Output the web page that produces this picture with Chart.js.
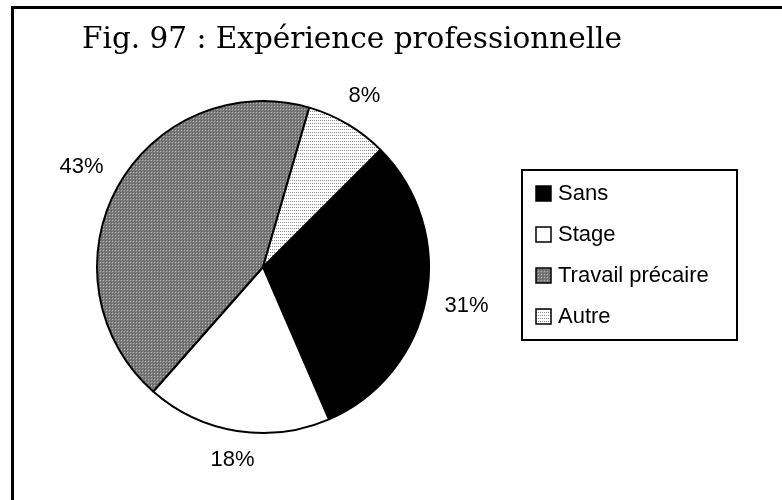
<!DOCTYPE html>
<html>
<head>
<meta charset="utf-8">
<script src="https://cdn.jsdelivr.net/npm/chart.js@4.4.1/dist/chart.umd.min.js"></script>
<style>
  body { margin: 0; background: #fff; }
  #cadre { display: block; }
</style>
</head>
<body>
<canvas id="cadre" width="782" height="500"></canvas>
<script>
const titre = 'Fig. 97 : Expérience professionnelle';
const categories = ['Sans', 'Stage', 'Travail précaire', 'Autre'];
const pourcentages = [31, 18, 43, 8];

// motifs de remplissage (trame grise et pointillé clair)
function motif(w, h, fond, points) {
  const c = document.createElement('canvas');
  c.width = w; c.height = h;
  const g = c.getContext('2d');
  g.fillStyle = fond;
  g.fillRect(0, 0, w, h);
  points.forEach(p => {
    g.fillStyle = p[2];
    g.fillRect(p[0], p[1], 1, 1);
  });
  return g.createPattern(c, 'repeat');
}

const ctx = document.getElementById('cadre').getContext('2d');
const trameGrise = motif(3, 3, '#7d7d7d', [[0, 0, '#5a5a5a'], [1, 1, '#b4b4b4'], [2, 2, '#6a6a6a']]);
const trameClaire = motif(2, 3, '#ffffff', [[0, 0, '#8c8c8c']]);
const remplissages = ['#000000', '#ffffff', trameGrise, trameClaire];

const policeTexte = '"Liberation Sans", Arial, sans-serif';

// cadre, titre, légende et étiquettes en %
const habillage = {
  id: 'habillage',
  afterDatasetsDraw(chart) {
    const c = chart.ctx;
    c.save();

    // bords haut et gauche du cadre
    c.strokeStyle = '#000';
    c.lineWidth = 3;
    c.beginPath();
    c.moveTo(782, 7.5);
    c.lineTo(12.5, 7.5);
    c.lineTo(12.5, 500);
    c.stroke();

    c.fillStyle = '#000';
    c.font = '29.5px "DejaVu Serif", serif';
    c.textBaseline = 'alphabetic';
    c.textAlign = 'left';
    c.fillText(titre, 82, 48);

    // pourcentages autour du camembert
    c.font = '22px ' + policeTexte;
    c.textAlign = 'center';
    c.textBaseline = 'middle';
    const arcs = chart.getDatasetMeta(0).data;
    arcs.forEach((arc, i) => {
      const p = arc.getProps(['x', 'y', 'startAngle', 'endAngle', 'outerRadius']);
      const milieu = (p.startAngle + p.endAngle) / 2;
      const txt = pourcentages[i] + '%';
      const w = c.measureText(txt).width;
      const h = 16;
      const cos = Math.cos(milieu), sin = Math.sin(milieu);
      const d = p.outerRadius + 18 + Math.abs(cos) * w / 2 + Math.abs(sin) * h / 2;
      c.fillText(txt, p.x + cos * d, p.y + sin * d);
    });

    // légende encadrée
    const lx = 522, ly = 170, lw = 215, lh = 170;
    c.lineWidth = 2;
    c.strokeRect(lx, ly, lw, lh);
    c.textAlign = 'left';
    c.font = '22px ' + policeTexte;
    categories.forEach((nom, i) => {
      const yc = ly + 23 + i * 41;
      c.fillStyle = remplissages[i];
      c.fillRect(lx + 14, yc - 7, 15, 15);
      c.lineWidth = 1.5;
      c.strokeRect(lx + 14, yc - 7, 15, 15);
      c.fillStyle = '#000';
      c.fillText(nom, lx + 36, yc + 1);
    });
    c.restore();
  }
};

new Chart(ctx, {
  type: 'pie',
  data: {
    labels: categories,
    datasets: [{
      data: pourcentages,
      backgroundColor: remplissages,
      borderColor: '#000',
      borderWidth: 2
    }]
  },
  options: {
    responsive: false,
    animation: false,
    rotation: 45,
    layout: { padding: { left: 96, top: 100, right: 352, bottom: 66 } },
    plugins: {
      legend: { display: false },
      title: { display: false },
      tooltip: { enabled: false }
    }
  },
  plugins: [habillage]
});
</script>
</body>
</html>
